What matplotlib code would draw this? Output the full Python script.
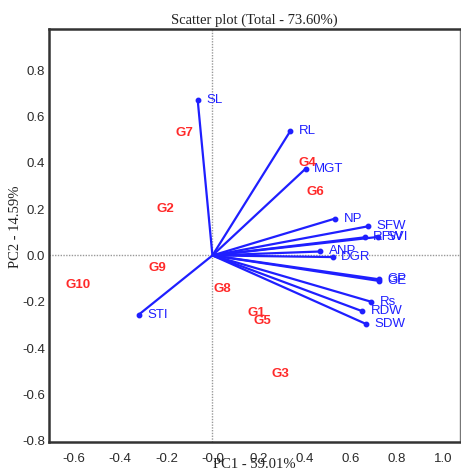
import matplotlib
matplotlib.use("Agg")
import matplotlib.pyplot as plt

# Variable loadings (PC1, PC2)
var_names = ["SL", "RL", "MGT", "NP", "SFW", "RFW", "SVI", "ANP", "DGR",
             "GP", "GE", "Rs", "RDW", "SDW", "STI"]
var_pc1 = [-0.064, 0.338, 0.405, 0.532, 0.677, 0.660, 0.720, 0.468, 0.521,
           0.723, 0.723, 0.689, 0.651, 0.667, -0.319]
var_pc2 = [0.671, 0.537, 0.375, 0.159, 0.126, 0.078, 0.080, 0.017, -0.007,
           -0.103, -0.110, -0.200, -0.241, -0.296, -0.255]

# Genotype scores (PC1, PC2)
geno_names = ["G1", "G2", "G3", "G4", "G5", "G6", "G7", "G8", "G9", "G10"]
geno_pc1 = [0.189, -0.206, 0.294, 0.410, 0.215, 0.446, -0.121, 0.042, -0.240, -0.583]
geno_pc2 = [-0.250, 0.199, -0.512, 0.397, -0.284, 0.274, 0.529, -0.144, -0.053, -0.126]

xtick_vals = [-0.6, -0.4, -0.2, 0.0, 0.2, 0.4, 0.6, 0.8, 1.0]
xtick_labels = ["-0.6", "-0.4", "-0.2", "-0.0", "0.2", "0.4", "0.6", "0.8", "1.0"]
ytick_vals = [-0.8, -0.6, -0.4, -0.2, 0.0, 0.2, 0.4, 0.6, 0.8]
ytick_labels = ["-0.8", "-0.6", "-0.4", "-0.2", "0.0", "0.2", "0.4", "0.6", "0.8"]

title = "Scatter plot (Total - 73.60%)"
xlabel = "PC1 - 59.01%"
ylabel = "PC2 - 14.59%"

BLUE = "#1f1fff"
RED = "#ff2a2a"

fig = plt.figure(figsize=(4.61, 4.71), dpi=100)
ax = fig.add_axes([49 / 461, 29 / 471, 411 / 461, 413 / 471])

ax.set_xlim(-0.709, 1.074)
ax.set_ylim(-0.805, 0.977)

ax.axhline(0, color="#999999", lw=1.0, ls=(0, (1, 1)), zorder=1)
ax.axvline(0, color="#999999", lw=1.0, ls=(0, (1, 1)), zorder=1)

for name, x, y in zip(var_names, var_pc1, var_pc2):
    ax.plot([0, x], [0, y], color=BLUE, lw=1.6, zorder=3, solid_capstyle="butt")
    ax.plot([x], [y], marker="o", ms=3.2, color=BLUE, zorder=4)
    ax.annotate(name, (x, y), xytext=(6.0, 0), textcoords="offset points",
                ha="left", va="center", color=BLUE, fontsize=9.5,
                family="Liberation Sans", zorder=5)

for name, x, y in zip(geno_names, geno_pc1, geno_pc2):
    ax.text(x, y, name, ha="center", va="center", color=RED, fontsize=9.5,
            fontweight="bold", family="Liberation Sans", zorder=5)

ax.set_xticks(xtick_vals)
ax.set_xticklabels(xtick_labels)
ax.set_yticks(ytick_vals)
ax.set_yticklabels(ytick_labels)
ax.tick_params(axis="both", length=0, labelsize=9.5, labelcolor="#2a2a2a")
ax.tick_params(axis="x", pad=8)
ax.tick_params(axis="y", pad=3)
for lab in ax.get_xticklabels() + ax.get_yticklabels():
    lab.set_family("Liberation Sans")

for side in ["left", "bottom", "top"]:
    ax.spines[side].set_linewidth(1.8)
    ax.spines[side].set_color("#333333")
ax.spines["right"].set_linewidth(1.0)
ax.spines["right"].set_color("#777777")

ax.set_title(title, fontsize=10.5, family="Liberation Serif", color="#222222", pad=4)
ax.set_xlabel(xlabel, fontsize=10.5, family="Liberation Serif", color="#222222", labelpad=-5)
ax.set_ylabel(ylabel, fontsize=10.5, family="Liberation Serif", color="#222222")
ax.yaxis.set_label_coords(-0.066, 0.52)

fig.savefig("out.png", dpi=100, facecolor="white")
